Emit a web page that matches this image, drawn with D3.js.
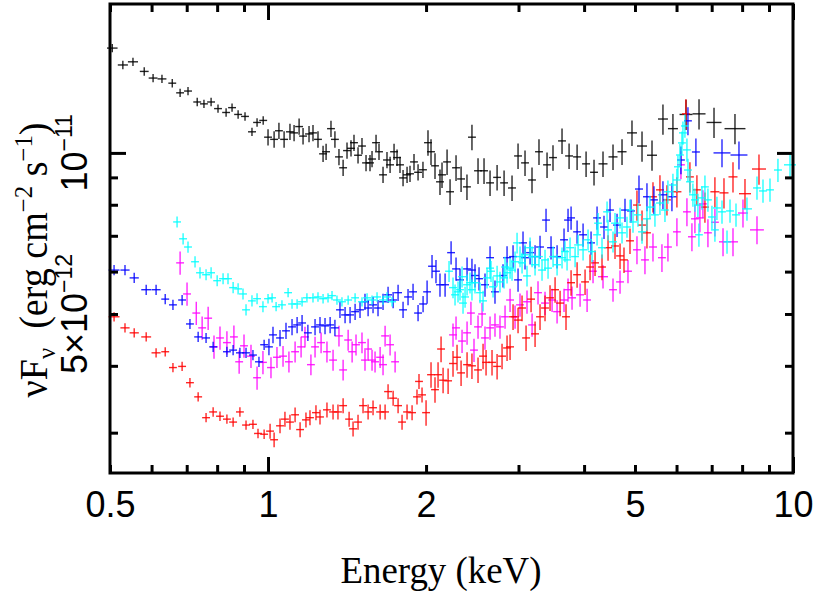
<!DOCTYPE html>
<html>
<head>
<meta charset="utf-8">
<script src="https://cdn.jsdelivr.net/npm/d3@7"></script>
<style>
  body { margin: 0; background: #fff; }
</style>
</head>
<body>
<div id="chart"></div>
<script>
// energies in keV, nuFnu in units of 1e-12 erg cm^-2 s^-1
const blackE = [0.505,0.529,0.553,0.581,0.604,0.628,0.657,0.680,0.704,0.733,0.755,0.779,0.803,0.832,0.854,0.877,0.904,0.932,0.953,0.979,1.000,1.027,1.049,1.073,1.101,1.121,1.146,1.166,1.197,1.218,1.245,1.273,1.290,1.318,1.341,1.365,1.390,1.414,1.439,1.458,1.484,1.510,1.537,1.564,1.578,1.606,1.627,1.656,1.685,1.708,1.738,1.761,1.784,1.808,1.840,1.864,1.897,1.931,1.973,2.017,2.044,2.080,2.126,2.145,2.193,2.222,2.281,2.332,2.393,2.446,2.512,2.579,2.648,2.731,2.816,2.916,2.994,3.087,3.183,3.282,3.400,3.490,3.631,3.745,3.879,4.035,4.178,4.346,4.541,4.724,4.935,5.157,5.388,5.653,5.906,6.255,6.622,7.072,7.753];
const blackF = [15.7,14.6,14.8,14.2,13.8,13.75,13.5,12.95,13.05,12.45,12.35,12.45,12.1,11.9,12.15,11.8,11.7,10.95,11.4,11.5,10.7,10.6,11.0,10.6,10.95,10.9,11.2,10.75,10.85,10.9,10.6,9.96,10.05,11.1,10.6,9.83,9.38,10.1,10.2,10.45,9.9,10.3,9.58,9.58,9.74,10.45,10.05,9.1,9.7,9.5,10.05,9.8,9.5,8.98,9.1,9.14,9.62,9.2,9.3,10.45,10.05,9.46,8.83,9.1,9.62,8.46,9.38,8.94,8.64,10.7,9.26,9.26,8.79,9.0,8.79,8.6,9.87,9.58,8.9,10.05,9.5,9.8,10.53,9.87,9.83,9.54,9.2,9.54,9.83,10.05,10.9,10.3,9.9,11.57,11.1,11.8,11.83,11.4,11.1];

const redE = [0.509,0.534,0.556,0.586,0.612,0.637,0.659,0.686,0.710,0.736,0.762,0.786,0.810,0.835,0.858,0.884,0.908,0.936,0.957,0.983,1.009,1.027,1.054,1.077,1.101,1.126,1.151,1.181,1.202,1.234,1.256,1.295,1.330,1.359,1.390,1.427,1.452,1.484,1.517,1.551,1.585,1.635,1.671,1.693,1.731,1.769,1.800,1.840,1.881,1.922,1.939,1.965,2.000,2.044,2.080,2.108,2.136,2.155,2.203,2.251,2.291,2.332,2.394,2.446,2.512,2.568,2.602,2.671,2.731,2.791,2.853,2.891,2.929,2.994,3.047,3.101,3.170,3.226,3.297,3.370,3.445,3.522,3.600,3.695,3.778,3.879,4.017,4.106,4.197,4.327,4.443,4.581,4.683,4.765,4.892,5.044,5.157,5.270,5.411,5.579,5.753,6.010,6.252,6.363,6.561,6.796,7.100,7.388,7.686,8.101,8.614];
const redF = [4.94,4.71,4.61,4.53,4.23,4.25,3.97,3.99,3.72,3.50,3.20,3.28,3.22,3.18,3.14,3.28,3.10,3.11,2.99,2.98,3.02,2.91,3.09,3.18,3.14,3.24,3.04,3.17,3.20,3.27,3.21,3.31,3.28,3.28,3.37,3.18,3.05,3.14,3.37,3.28,3.34,3.28,3.28,3.58,3.48,3.37,3.14,3.28,3.27,3.50,3.74,3.53,3.27,3.85,3.61,3.85,4.30,3.76,3.75,4.04,4.15,3.88,4.02,4.00,3.93,4.17,4.06,4.06,3.99,4.17,4.32,4.34,4.94,4.87,5.13,4.51,5.33,4.59,4.94,5.13,5.36,5.55,5.24,4.94,5.72,5.92,5.74,6.12,6.23,6.12,6.65,6.70,6.42,6.31,6.85,7.99,7.33,7.09,8.28,8.53,8.17,8.46,11.83,9.02,8.53,7.92,8.46,8.42,9.02,8.39,9.33];

const blueE = [0.509,0.534,0.556,0.586,0.612,0.637,0.659,0.686,0.710,0.736,0.762,0.786,0.835,0.858,0.884,0.908,0.936,0.961,0.983,1.004,1.022,1.054,1.082,1.111,1.136,1.161,1.191,1.229,1.256,1.284,1.313,1.341,1.371,1.402,1.433,1.465,1.497,1.530,1.551,1.585,1.620,1.656,1.693,1.731,1.769,1.808,1.848,1.889,1.931,1.974,2.009,2.053,2.089,2.126,2.174,2.232,2.281,2.321,2.394,2.446,2.479,2.523,2.590,2.648,2.706,2.803,2.853,2.929,2.994,3.060,3.087,3.156,3.226,3.297,3.385,3.460,3.553,3.663,3.728,3.778,3.879,3.982,4.124,4.234,4.365,4.482,4.622,4.786,4.913,5.089,5.270,5.434,5.653,5.880,6.117,6.308,6.532,7.324,7.890];
const blueF = [6.04,6.04,5.84,5.55,5.55,5.33,5.20,5.31,4.79,4.53,4.51,4.34,4.25,4.28,4.23,4.23,4.19,4.07,4.38,4.34,4.57,4.51,4.65,4.73,4.77,4.81,4.61,4.73,4.77,4.75,4.77,4.71,5.09,4.98,4.98,5.05,5.09,5.27,5.13,5.20,5.13,5.27,5.43,5.31,5.48,5.09,5.38,5.50,5.02,5.22,5.50,6.14,6.01,5.67,5.67,6.51,6.07,5.79,6.07,6.04,5.90,5.82,5.67,6.37,5.50,5.90,6.37,6.40,5.79,6.79,6.37,6.51,6.40,6.67,7.49,6.65,6.40,6.88,7.49,7.56,7.12,7.03,6.79,7.56,7.27,7.82,7.33,7.82,7.79,8.56,8.28,8.17,8.35,8.28,9.70,11.48,10.04,10.0,9.91];

const magentaE = [0.680,0.701,0.730,0.749,0.769,0.789,0.810,0.835,0.861,0.881,0.900,0.928,0.953,0.978,1.013,1.040,1.068,1.096,1.126,1.156,1.176,1.207,1.229,1.262,1.295,1.330,1.365,1.390,1.421,1.446,1.471,1.510,1.530,1.551,1.578,1.599,1.635,1.656,1.671,1.708,1.746,2.251,2.281,2.342,2.394,2.435,2.468,2.512,2.557,2.590,2.648,2.706,2.766,2.828,2.891,2.955,3.020,3.114,3.184,3.268,3.370,3.476,3.553,3.663,3.728,3.794,3.930,4.053,4.160,4.346,4.541,4.683,4.849,5.044,5.224,5.411,5.628,5.778,6.010,6.117,6.280,6.419,6.504,6.648,6.736,6.886,7.100,7.357,7.686,8.030,8.539];
const magentaF = [6.23,5.45,5.02,4.71,4.91,4.34,4.51,4.42,4.53,4.07,4.36,4.17,3.80,4.06,3.97,4.15,4.17,4.07,4.25,4.34,4.53,4.02,4.34,4.42,4.25,4.10,4.55,3.93,4.47,4.25,4.38,4.42,4.10,4.30,4.10,4.07,4.15,4.02,4.55,4.38,4.07,4.57,4.71,4.45,4.61,5.02,4.28,4.73,5.00,4.51,4.71,4.77,4.73,4.94,5.31,4.94,5.20,5.27,4.77,5.48,5.24,5.31,5.05,5.31,5.55,5.36,5.43,5.31,6.01,5.87,5.55,5.74,6.01,6.59,6.31,6.67,6.37,6.67,7.12,9.50,7.76,6.97,7.53,7.56,8.03,7.09,7.42,6.82,6.82,7.72,7.18];

const cyanE = [0.671,0.689,0.704,0.726,0.742,0.762,0.779,0.800,0.821,0.839,0.858,0.877,0.896,0.908,0.932,0.953,0.978,1.000,1.018,1.036,1.063,1.092,1.111,1.136,1.161,1.186,1.218,1.245,1.273,1.301,1.324,1.353,1.383,1.421,1.465,1.510,1.544,1.578,1.613,1.656,1.685,1.723,2.212,2.251,2.271,2.301,2.321,2.342,2.352,2.373,2.394,2.425,2.446,2.479,2.534,2.568,2.613,2.648,2.659,2.683,2.731,2.766,2.816,2.828,2.853,2.891,2.916,2.955,2.981,3.020,3.047,3.087,3.114,3.156,3.184,3.226,3.282,3.326,3.370,3.415,3.491,3.553,3.631,3.679,3.712,3.761,3.845,3.896,3.982,4.070,4.142,4.234,4.253,4.327,4.424,4.443,4.541,4.581,4.683,4.724,4.828,4.892,4.957,5.066,5.157,5.270,5.340,5.458,5.579,5.703,5.778,5.906,6.010,6.037,6.090,6.144,6.171,6.225,6.280,6.308,6.363,6.447,6.504,6.590,6.619,6.707,6.796,6.886,7.008,7.100,7.163,7.324,7.487,7.586,7.788,8.172,8.539,8.767,9.040,9.361,9.869];
const cyanF = [7.43,6.91,6.67,6.26,5.97,5.92,5.97,5.77,5.82,5.82,5.60,5.57,5.45,5.09,5.29,5.34,5.16,5.34,5.36,5.16,5.20,5.48,5.22,5.22,5.27,5.36,5.36,5.38,5.34,5.36,5.41,5.31,5.27,5.31,5.36,5.27,5.36,5.31,5.38,5.31,5.38,5.27,6.01,5.60,5.43,5.50,5.55,5.87,5.24,5.38,5.67,5.72,5.55,5.72,5.48,5.29,5.84,6.09,6.01,5.62,5.89,5.74,5.84,6.12,5.97,6.09,6.04,6.26,6.79,6.40,6.23,6.45,5.89,6.65,6.40,6.18,6.40,6.04,6.31,6.09,6.40,6.18,6.37,6.54,6.31,6.65,6.40,6.73,6.59,6.88,6.54,7.03,7.39,6.65,7.76,7.18,6.82,7.39,7.56,7.09,7.27,7.82,7.43,7.66,7.12,7.53,7.92,7.66,8.06,7.82,8.46,8.71,8.90,9.42,9.91,10.44,10.90,11.23,10.13,9.29,8.83,8.35,8.17,7.99,7.03,8.24,8.64,8.17,7.59,7.18,7.89,7.76,6.82,7.79,7.66,7.86,8.60,8.49,8.53,9.29,9.50];

// percent flux errors, stepwise below 1, 2, 5 keV and above
const errEdges = [1, 2, 5];
const blackErr = [1.8, 3.5, 5.5, 6.5];
const redErr = [2.0, 3.2, 5.5, 6.5];
const blueErr = [2.2, 3.5, 5.0, 6.0];
const magentaErr = [5.0, 4.5, 5.0, 6.0];
const cyanErr = [2.4, 2.0, 4.5, 5.0];

const xMajor = [1, 10];
const xMinor = [0.5, 0.6, 0.7, 0.8, 0.9, 2, 3, 4, 5, 6, 7, 8, 9];
const xLabels = [0.5, 1, 2, 5, 10];
const yMajor = [10];
const yMinor = [3, 4, 5, 6, 7, 8, 9];

const W = 830, H = 591;
const pLeft = 110, pRight = 793, pTop = 4, pBottom = 473;

const svg = d3.select('#chart').append('svg')
    .attr('width', W)
    .attr('height', H);

const x = d3.scaleLog().domain([0.5, 10]).range([pLeft, pRight]);
const y = d3.scaleLog().domain([2.522, 18.98]).range([pBottom, pTop]);

// spectra
const plot = svg.append('g');

function drawSeries(E, F, errPct, color) {
    const pts = E.map((e, i) => ({ e: e, f: F[i] })).filter(p => p.f != null);
    const lg = pts.map(p => Math.log10(p.e));
    pts.forEach((p, i) => {
        const dl = i > 0 ? lg[i] - lg[i - 1] : Infinity;
        const dr = i < pts.length - 1 ? lg[i + 1] - lg[i] : Infinity;
        let h = 0.5 * Math.min(dl, dr);
        if (!isFinite(h)) h = 0.01;
        h = Math.max(0.0075, Math.min(0.02, h));
        p.lo = p.e / Math.pow(10, h);
        p.hi = p.e * Math.pow(10, h);
        let band = errEdges.findIndex(b => p.e < b);
        if (band < 0) band = errEdges.length;
        const pct = errPct[band] / 100;
        p.flo = p.f * (1 - pct);
        p.fhi = p.f * (1 + pct);
    });

    const g = plot.append('g')
        .attr('stroke', color)
        .attr('stroke-width', 1.4)
        .attr('stroke-opacity', 0.85);

    g.selectAll('line.h').data(pts).join('line')
        .attr('class', 'h')
        .attr('x1', d => x(d.lo))
        .attr('x2', d => x(d.hi))
        .attr('y1', d => y(d.f))
        .attr('y2', d => y(d.f));

    g.selectAll('line.v').data(pts).join('line')
        .attr('class', 'v')
        .attr('x1', d => x(d.e))
        .attr('x2', d => x(d.e))
        .attr('y1', d => y(d.flo))
        .attr('y2', d => y(d.fhi));
}

drawSeries(blackE, blackF, blackErr, '#000000');
drawSeries(magentaE, magentaF, magentaErr, '#ff00ff');
drawSeries(redE, redF, redErr, '#ff0000');
drawSeries(blueE, blueF, blueErr, '#0000ff');
drawSeries(cyanE, cyanF, cyanErr, '#00ffff');

// ticks, all pointing inward
function ticks(axis, tx, ty) {
    const g = svg.append('g')
        .attr('transform', `translate(${tx},${ty})`)
        .call(axis);
    g.select('.domain').remove();
    g.selectAll('text').remove();
    g.selectAll('.tick line')
        .attr('stroke', '#000')
        .attr('stroke-width', 3);
}

ticks(d3.axisBottom(x).tickValues(xMajor).tickSize(-16), 0, pBottom);
ticks(d3.axisBottom(x).tickValues(xMinor).tickSize(-8), 0, pBottom);
ticks(d3.axisTop(x).tickValues(xMajor).tickSize(-16), 0, pTop);
ticks(d3.axisTop(x).tickValues(xMinor).tickSize(-8), 0, pTop);
ticks(d3.axisLeft(y).tickValues(yMajor).tickSize(-16), pLeft, 0);
ticks(d3.axisLeft(y).tickValues(yMinor).tickSize(-8), pLeft, 0);
ticks(d3.axisRight(y).tickValues(yMajor).tickSize(-16), pRight, 0);
ticks(d3.axisRight(y).tickValues(yMinor).tickSize(-8), pRight, 0);

// frame
svg.append('rect')
    .attr('x', pLeft)
    .attr('y', pTop)
    .attr('width', pRight - pLeft)
    .attr('height', pBottom - pTop)
    .attr('fill', 'none')
    .attr('stroke', '#000')
    .attr('stroke-width', 3);

// x tick labels
const xAxis = svg.append('g')
    .attr('transform', `translate(0,${pBottom})`)
    .call(d3.axisBottom(x).tickValues(xLabels).tickSize(0).tickPadding(18).tickFormat(d => String(d)));
xAxis.select('.domain').remove();
xAxis.selectAll('text')
    .attr('fill', '#000')
    .style('font-family', '"Liberation Sans", Arial, sans-serif')
    .style('font-size', '36px');

// y tick labels (rotated)
function yLabel(v, base, exp) {
    const t = svg.append('text')
        .attr('transform', `translate(87,${y(v)}) rotate(-90)`)
        .attr('text-anchor', 'middle')
        .attr('fill', '#000')
        .style('font-family', '"Liberation Sans", Arial, sans-serif')
        .style('font-size', '36px');
    t.append('tspan').text(base);
    t.append('tspan')
        .attr('dy', -15)
        .style('font-size', '23px')
        .text(exp);
}
yLabel(10, '10', '\u221211');
yLabel(5, '5\u00d710', '\u221212');

// axis titles
svg.append('text')
    .attr('x', 441)
    .attr('y', 583)
    .attr('text-anchor', 'middle')
    .attr('fill', '#000')
    .attr('textLength', 201)
    .attr('lengthAdjust', 'spacingAndGlyphs')
    .style('font-family', '"Liberation Serif", "Times New Roman", serif')
    .style('font-size', '38px')
    .text('Energy (keV)');

const yt = svg.append('text')
    .attr('transform', 'translate(47,260) rotate(-90)')
    .attr('text-anchor', 'middle')
    .attr('fill', '#000')
    .attr('textLength', 275)
    .attr('lengthAdjust', 'spacingAndGlyphs')
    .style('font-family', '"Liberation Serif", "Times New Roman", serif')
    .style('font-size', '40px');
yt.append('tspan').text('\u03bdF');
yt.append('tspan').attr('dy', 8).style('font-size', '26px').text('\u03bd');
yt.append('tspan').attr('dy', -8).text('\u2002(erg cm');
yt.append('tspan').attr('dy', -15).style('font-size', '26px').text('\u22122');
yt.append('tspan').attr('dy', 15).text(' s');
yt.append('tspan').attr('dy', -15).style('font-size', '26px').text('\u22121');
yt.append('tspan').attr('dy', 15).text(')');
</script>
</body>
</html>
